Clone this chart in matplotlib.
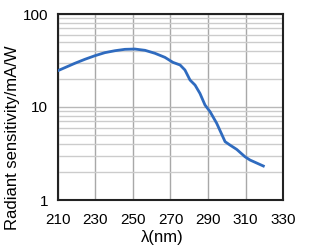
import matplotlib
matplotlib.use("Agg")
from matplotlib import pyplot as plt
from matplotlib.ticker import LogLocator, FixedLocator, NullFormatter

plt.rcParams['font.family'] = ['Liberation Sans', 'DejaVu Sans']

# spectral response
wavelength = [210, 213.7, 219, 224.4, 229.7, 235, 240.4, 245.7, 251, 256.4, 261.7,
              267, 271.3, 275.1, 277.7, 280.4, 283.1, 285.7, 288.4, 291.1, 294.6,
              299.1, 301.7, 305.3, 309.7, 312.4, 319.5]
sensitivity = [24.6, 26.5, 29.5, 32.6, 35.6, 38.4, 40.3, 41.7, 42.0, 40.7, 37.8,
               34.2, 30.2, 28.3, 25.0, 19.5, 17.2, 14.0, 10.5, 8.9, 6.7,
               4.24, 3.9, 3.5, 2.92, 2.69, 2.32]
xticks = [210, 230, 250, 270, 290, 310, 330]
yticks = [1, 10, 100]

fig = plt.figure(figsize=(3.22, 2.5), dpi=100)
ax = fig.add_axes([0.180, 0.200, 0.699, 0.744])

ax.plot(wavelength, sensitivity, color='#2f6bbf', lw=2, zorder=3)

ax.set_yscale('log')
ax.set_xlim(210, 330)
ax.set_ylim(1, 100)
ax.xaxis.set_major_locator(FixedLocator(xticks))
ax.yaxis.set_major_locator(FixedLocator(yticks))
ax.set_yticklabels([str(v) for v in yticks])
ax.yaxis.set_minor_locator(LogLocator(base=10, subs=range(2, 10)))
ax.yaxis.set_minor_formatter(NullFormatter())

ax.grid(True, which='major', axis='x', color='#a8a8a8', lw=1.0)
ax.grid(True, which='major', axis='y', color='#b8b8b8', lw=1.0)
ax.grid(True, which='minor', axis='y', color='#cccccc', lw=1.0)

ax.tick_params(which='both', length=0, labelsize=11, colors='black')
ax.tick_params(axis='x', pad=9)
ax.tick_params(axis='y', pad=7)

for s in ax.spines.values():
    s.set_linewidth(1.5)
    s.set_color('#222222')

ax.set_xlabel('λ(nm)', fontsize=12)
ax.xaxis.set_label_coords(0.462, -0.16)
ax.set_ylabel('Radiant sensitivity/mA/W', fontsize=12)
ax.yaxis.set_label_coords(-0.168, 0.336)

fig.savefig('out.png', dpi=100)
